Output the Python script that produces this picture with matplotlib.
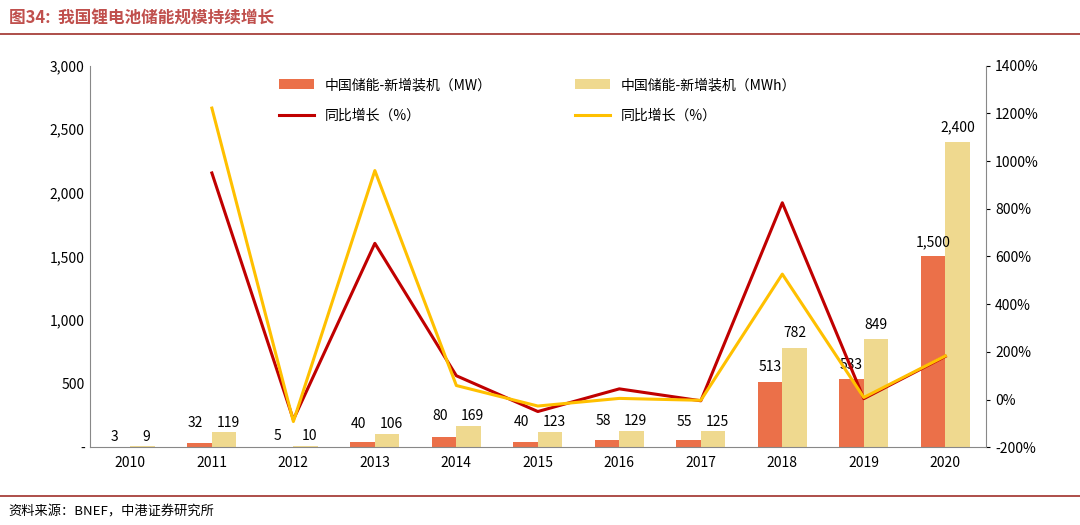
import matplotlib.pyplot as plt
import numpy as np
from matplotlib.ticker import FuncFormatter

plt.rcParams['font.family'] = ['Noto Sans CJK SC', 'DejaVu Sans']

years = ['2010', '2011', '2012', '2013', '2014', '2015', '2016', '2017', '2018', '2019', '2020']
mw = [3, 32, 5, 40, 80, 40, 58, 55, 513, 533, 1500]
mwh = [9, 119, 10, 106, 169, 123, 129, 125, 782, 849, 2400]
yoy_mw = [None, 950, -84, 655, 100, -50, 45, -5, 825, 4, 181]
yoy_mwh = [None, 1222, -92, 960, 59, -27, 5, -3, 526, 9, 183]

c_mw = '#EB7049'
c_mwh = '#EFD98F'
c_red = '#C00000'
c_yel = '#FFC000'

fig = plt.figure(figsize=(10.8, 5.25), dpi=100)
fig.text(0.008, 0.965, '图34:  我国锂电池储能规模持续增长', fontsize=12, fontweight='bold',
         color='#C0504D', va='center')
fig.add_artist(plt.Line2D([0, 1], [0.935, 0.935], color='#A0302A', lw=1.2))
fig.add_artist(plt.Line2D([0, 1], [0.055, 0.055], color='#A0302A', lw=1.2))
fig.text(0.008, 0.025, '资料来源：BNEF，中港证券研究所', fontsize=9.5, style='italic', va='center')

ax = fig.add_axes([0.083, 0.148, 0.83, 0.727])
x = np.arange(len(years))
w = 0.3
ax.bar(x - w / 2, mw, w, color=c_mw, label='中国储能-新增装机（MW）')
ax.bar(x + w / 2, mwh, w, color=c_mwh, label='中国储能-新增装机（MWh）')
for i in range(len(years)):
    if i >= 8:
        ax.text(x[i] - w / 2, mw[i] + 60, f'{mw[i]:,}', ha='center', va='bottom', fontsize=10)
        ax.text(x[i] + w / 2, mwh[i] + 60, f'{mwh[i]:,}', ha='center', va='bottom', fontsize=10)
    else:
        ax.text(x[i] - w / 2 - 0.05, max(mw[i], mwh[i]) + 20, f'{mw[i]}', ha='center', va='bottom', fontsize=10)
        ax.text(x[i] + w / 2 + 0.05, max(mw[i], mwh[i]) + 20, f'{mwh[i]}', ha='center', va='bottom', fontsize=10)

ax.set_ylim(0, 3000)
ax.set_yticks(range(0, 3001, 500))
ax.yaxis.set_major_formatter(FuncFormatter(lambda v, p: '-' if v == 0 else f'{int(v):,}'))
ax.set_xlim(-0.5, len(years) - 0.5)
ax.set_xticks(x)
ax.set_xticklabels(years)
ax.tick_params(labelsize=10, length=0)
ax.tick_params(axis='x', pad=6)
for s in ['top', 'right']:
    ax.spines[s].set_visible(False)
ax.spines['left'].set_color('#888888')
ax.spines['bottom'].set_color('#888888')

ax2 = ax.twinx()
ax2.plot(x[1:], yoy_mw[1:], color=c_red, lw=2.2, label='同比增长（%）')
ax2.plot(x[1:], yoy_mwh[1:], color=c_yel, lw=2.2, label='同比增长（%）')
ax2.set_ylim(-200, 1400)
ax2.set_yticks(range(-200, 1401, 200))
ax2.yaxis.set_major_formatter(FuncFormatter(lambda v, p: f'{int(v)}%'))
ax2.tick_params(labelsize=10, length=3)
for s in ['top', 'left', 'bottom']:
    ax2.spines[s].set_visible(False)
ax2.spines['right'].set_color('#888888')

h1, l1 = ax.get_legend_handles_labels()
h2, l2 = ax2.get_legend_handles_labels()
handles = [h1[0], h2[0], h1[1], h2[1]]
labels = [l1[0], l2[0], l1[1], l2[1]]
ax.legend(handles, labels, ncol=2, loc='upper center', bbox_to_anchor=(0.5, 1.0),
          frameon=False, fontsize=10, columnspacing=6, handlelength=2.5, labelspacing=1.2)

fig.savefig('out.png', dpi=100)
